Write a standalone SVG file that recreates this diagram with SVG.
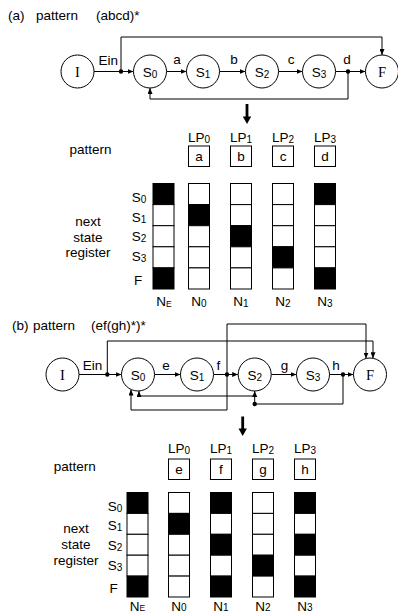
<svg xmlns="http://www.w3.org/2000/svg" width="398" height="612" viewBox="0 0 398 612">
<defs>
<style>
text{font-family:"Liberation Sans",Arial,sans-serif;font-size:13.5px;fill:#000}
.m{text-anchor:middle}
.sv{font-family:"Liberation Serif","Times New Roman",serif;font-size:14.5px}
.sub{font-size:10px}
.sube{font-size:8.5px}
circle{fill:#fff;stroke:#000;stroke-width:1}
.c{fill:none;stroke:#000;stroke-width:1}
.a{marker-end:url(#ah)}
.w{fill:#fff;stroke:#000;stroke-width:1}
.k{fill:#000;stroke:#000;stroke-width:1}
.dot{fill:#000;stroke:none}
.big{stroke:#000;stroke-width:2.8;fill:none}
</style>
<marker id="ah" markerWidth="6" markerHeight="5" refX="6" refY="2.5" orient="auto" markerUnits="userSpaceOnUse"><path d="M0,0 L6,2.5 L0,5 z" fill="#000"/></marker>
</defs>

<!-- ===== Part (a) ===== -->
<g id="title-a">
<text x="8" y="19.5">(a)</text>
<text x="36" y="19.5">pattern</text>
<text x="96" y="19.5">(abcd)*</text>
</g>

<g id="connectors-a">
<path class="c a" d="M94,71.5 H133.5"/>
<path class="c a" d="M121,71.5 V37 H382 V55"/>
<path class="c a" d="M166.5,71.5 H186.5"/>
<path class="c a" d="M219.5,71.5 H245.5"/>
<path class="c a" d="M278.5,71.5 H302.5"/>
<path class="c a" d="M335.5,71.5 H365.5"/>
<path class="c a" d="M348,71.5 V99 H150 V88"/>
<circle class="dot" cx="121" cy="71.5" r="2.2" style="stroke:none"/>
<circle class="dot" cx="348" cy="71.5" r="2.2" style="stroke:none"/>
<text x="98.5" y="65">Ein</text>
<text class="m" x="177" y="64">a</text>
<text class="m" x="234" y="64">b</text>
<text class="m" x="291" y="64">c</text>
<text class="m" x="347" y="64">d</text>
</g>

<g id="a-I"><circle cx="77.5" cy="71.5" r="16.5"/><text class="m sv" x="77.5" y="76.5">I</text></g>
<g id="a-S0"><circle cx="150" cy="71.5" r="16.5"/><text class="m" x="150" y="76.5">S<tspan class="sub" dy="1">0</tspan></text></g>
<g id="a-S1"><circle cx="203" cy="71.5" r="16.5"/><text class="m" x="203" y="76.5">S<tspan class="sub" dy="1">1</tspan></text></g>
<g id="a-S2"><circle cx="262" cy="71.5" r="16.5"/><text class="m" x="262" y="76.5">S<tspan class="sub" dy="1">2</tspan></text></g>
<g id="a-S3"><circle cx="319" cy="71.5" r="16.5"/><text class="m" x="319" y="76.5">S<tspan class="sub" dy="1">3</tspan></text></g>
<g id="a-F"><circle cx="382" cy="71.5" r="16.5"/><text class="m sv" x="382" y="76.5">F</text></g>

<g id="arrow-a">
<line class="big" x1="247" y1="104" x2="247" y2="118"/>
<polygon points="242.8,116.5 251.2,116.5 247,124" fill="#000"/>
</g>

<g id="table-a">
<text class="m" x="90.5" y="154">pattern</text>
<text class="m" x="199" y="141.7">LP<tspan class="sub" dy="1">0</tspan></text>
<text class="m" x="241" y="141.7">LP<tspan class="sub" dy="1">1</tspan></text>
<text class="m" x="283" y="141.7">LP<tspan class="sub" dy="1">2</tspan></text>
<text class="m" x="325" y="141.7">LP<tspan class="sub" dy="1">3</tspan></text>
<rect class="w" x="188.5" y="146" width="21" height="20.5"/><text class="m" x="199" y="160.5">a</text>
<rect class="w" x="230.5" y="146" width="21" height="20.5"/><text class="m" x="241" y="160.5">b</text>
<rect class="w" x="272.5" y="146" width="21" height="20.5"/><text class="m" x="283" y="160.5">c</text>
<rect class="w" x="314.5" y="146" width="21" height="20.5"/><text class="m" x="325" y="160.5">d</text>

<text class="m" x="88" y="225.7">next</text>
<text class="m" x="88" y="241.5">state</text>
<text class="m" x="88" y="257">register</text>

<text class="m" x="139" y="201.5">S<tspan class="sub" dy="1">0</tspan></text>
<text class="m" x="139" y="222">S<tspan class="sub" dy="1">1</tspan></text>
<text class="m" x="139" y="240.5">S<tspan class="sub" dy="1">2</tspan></text>
<text class="m" x="139" y="260.5">S<tspan class="sub" dy="1">3</tspan></text>
<text class="m" x="138" y="285">F</text>

<!-- NE -->
<rect class="k" x="153" y="183.5" width="21" height="21.1"/>
<rect class="w" x="153" y="204.6" width="21" height="21.1"/>
<rect class="w" x="153" y="225.7" width="21" height="21.1"/>
<rect class="w" x="153" y="246.8" width="21" height="21.1"/>
<rect class="k" x="153" y="267.9" width="21" height="21.1"/>
<!-- N0 -->
<rect class="w" x="188.5" y="183.5" width="21" height="21.1"/>
<rect class="k" x="188.5" y="204.6" width="21" height="21.1"/>
<rect class="w" x="188.5" y="225.7" width="21" height="21.1"/>
<rect class="w" x="188.5" y="246.8" width="21" height="21.1"/>
<rect class="w" x="188.5" y="267.9" width="21" height="21.1"/>
<!-- N1 -->
<rect class="w" x="230.5" y="183.5" width="21" height="21.1"/>
<rect class="w" x="230.5" y="204.6" width="21" height="21.1"/>
<rect class="k" x="230.5" y="225.7" width="21" height="21.1"/>
<rect class="w" x="230.5" y="246.8" width="21" height="21.1"/>
<rect class="w" x="230.5" y="267.9" width="21" height="21.1"/>
<!-- N2 -->
<rect class="w" x="272.5" y="183.5" width="21" height="21.1"/>
<rect class="w" x="272.5" y="204.6" width="21" height="21.1"/>
<rect class="w" x="272.5" y="225.7" width="21" height="21.1"/>
<rect class="k" x="272.5" y="246.8" width="21" height="21.1"/>
<rect class="w" x="272.5" y="267.9" width="21" height="21.1"/>
<!-- N3 -->
<rect class="k" x="314.5" y="183.5" width="21" height="21.1"/>
<rect class="w" x="314.5" y="204.6" width="21" height="21.1"/>
<rect class="w" x="314.5" y="225.7" width="21" height="21.1"/>
<rect class="w" x="314.5" y="246.8" width="21" height="21.1"/>
<rect class="k" x="314.5" y="267.9" width="21" height="21.1"/>

<text class="m" x="164" y="306">N<tspan class="sube" dy="1">E</tspan></text>
<text class="m" x="199" y="306">N<tspan class="sub" dy="1">0</tspan></text>
<text class="m" x="241" y="306">N<tspan class="sub" dy="1">1</tspan></text>
<text class="m" x="283" y="306">N<tspan class="sub" dy="1">2</tspan></text>
<text class="m" x="325" y="306">N<tspan class="sub" dy="1">3</tspan></text>
</g>

<!-- ===== Part (b) ===== -->
<g id="title-b">
<text x="12" y="329.5">(b)</text>
<text x="33" y="329.5">pattern</text>
<text x="91" y="329.5">(ef(gh)*)*</text>
</g>

<g id="connectors-b">
<path class="c a" d="M79,374.5 H121.5"/>
<path class="c a" d="M107.3,374.5 V341 H373 V358.3"/>
<path class="c a" d="M154.5,374.5 H180.5"/>
<path class="c a" d="M213.5,374.5 H238.2"/>
<path class="c a" d="M227,374.5 V324 H366 V358.5"/>
<path class="c a" d="M227,374.5 V410 H131 V389.5"/>
<path class="c a" d="M271.2,374.5 H296.5"/>
<path class="c a" d="M329.5,374.5 H353.5"/>
<path class="c a" d="M343,374.5 V404 H254.7 V391"/>
<path class="c a" d="M254.7,396 H139 V391"/>
<circle class="dot" cx="107.3" cy="374.5" r="2.2" style="stroke:none"/>
<circle class="dot" cx="227" cy="374.5" r="2.2" style="stroke:none"/>
<circle class="dot" cx="343" cy="374.5" r="2.2" style="stroke:none"/>
<circle class="dot" cx="254.7" cy="404" r="2.2" style="stroke:none"/>
<text x="82.7" y="370">Ein</text>
<text class="m" x="166" y="369.5">e</text>
<text class="m" x="218.5" y="369.5">f</text>
<text class="m" x="284.5" y="369.5">g</text>
<text class="m" x="336" y="370">h</text>
</g>

<g id="b-I"><circle cx="62.5" cy="374.5" r="16.5"/><text class="m sv" x="62.5" y="379.5">I</text></g>
<g id="b-S0"><circle cx="138" cy="374.5" r="16.5"/><text class="m" x="138" y="379.5">S<tspan class="sub" dy="1">0</tspan></text></g>
<g id="b-S1"><circle cx="197" cy="374.5" r="16.5"/><text class="m" x="197" y="379.5">S<tspan class="sub" dy="1">1</tspan></text></g>
<g id="b-S2"><circle cx="254.7" cy="374.5" r="16.5"/><text class="m" x="254.7" y="379.5">S<tspan class="sub" dy="1">2</tspan></text></g>
<g id="b-S3"><circle cx="313" cy="374.5" r="16.5"/><text class="m" x="313" y="379.5">S<tspan class="sub" dy="1">3</tspan></text></g>
<g id="b-F"><circle cx="370" cy="374.5" r="16.5"/><text class="m sv" x="370" y="379.5">F</text></g>

<g id="arrow-b">
<line class="big" x1="242.7" y1="416.5" x2="242.7" y2="430"/>
<polygon points="238.5,428.5 246.9,428.5 242.7,436" fill="#000"/>
</g>

<g id="table-b">
<text class="m" x="74.7" y="470.5">pattern</text>
<text class="m" x="179" y="452.7">LP<tspan class="sub" dy="1">0</tspan></text>
<text class="m" x="221" y="452.7">LP<tspan class="sub" dy="1">1</tspan></text>
<text class="m" x="263" y="452.7">LP<tspan class="sub" dy="1">2</tspan></text>
<text class="m" x="305" y="452.7">LP<tspan class="sub" dy="1">3</tspan></text>
<rect class="w" x="168.5" y="459" width="21" height="20.5"/><text class="m" x="179" y="473.5">e</text>
<rect class="w" x="210.5" y="459" width="21" height="20.5"/><text class="m" x="221" y="473.5">f</text>
<rect class="w" x="252.5" y="459" width="21" height="20.5"/><text class="m" x="263" y="473.5">g</text>
<rect class="w" x="294.5" y="459" width="21" height="20.5"/><text class="m" x="305" y="473.5">h</text>

<text class="m" x="76" y="533.3">next</text>
<text class="m" x="76" y="549.3">state</text>
<text class="m" x="76" y="565">register</text>

<text class="m" x="115" y="510.7">S<tspan class="sub" dy="1">0</tspan></text>
<text class="m" x="115" y="530">S<tspan class="sub" dy="1">1</tspan></text>
<text class="m" x="115" y="550">S<tspan class="sub" dy="1">2</tspan></text>
<text class="m" x="115" y="570">S<tspan class="sub" dy="1">3</tspan></text>
<text class="m" x="113.5" y="593">F</text>

<!-- NE -->
<rect class="k" x="127" y="492.5" width="21" height="20.9"/>
<rect class="w" x="127" y="513.4" width="21" height="20.9"/>
<rect class="w" x="127" y="534.3" width="21" height="20.9"/>
<rect class="w" x="127" y="555.2" width="21" height="20.9"/>
<rect class="k" x="127" y="576.1" width="21" height="20.9"/>
<!-- N0 -->
<rect class="w" x="168.5" y="492.5" width="21" height="20.9"/>
<rect class="k" x="168.5" y="513.4" width="21" height="20.9"/>
<rect class="w" x="168.5" y="534.3" width="21" height="20.9"/>
<rect class="w" x="168.5" y="555.2" width="21" height="20.9"/>
<rect class="w" x="168.5" y="576.1" width="21" height="20.9"/>
<!-- N1 -->
<rect class="k" x="210.5" y="492.5" width="21" height="20.9"/>
<rect class="w" x="210.5" y="513.4" width="21" height="20.9"/>
<rect class="k" x="210.5" y="534.3" width="21" height="20.9"/>
<rect class="w" x="210.5" y="555.2" width="21" height="20.9"/>
<rect class="k" x="210.5" y="576.1" width="21" height="20.9"/>
<!-- N2 -->
<rect class="w" x="252.5" y="492.5" width="21" height="20.9"/>
<rect class="w" x="252.5" y="513.4" width="21" height="20.9"/>
<rect class="w" x="252.5" y="534.3" width="21" height="20.9"/>
<rect class="k" x="252.5" y="555.2" width="21" height="20.9"/>
<rect class="w" x="252.5" y="576.1" width="21" height="20.9"/>
<!-- N3 -->
<rect class="k" x="294.5" y="492.5" width="21" height="20.9"/>
<rect class="w" x="294.5" y="513.4" width="21" height="20.9"/>
<rect class="k" x="294.5" y="534.3" width="21" height="20.9"/>
<rect class="w" x="294.5" y="555.2" width="21" height="20.9"/>
<rect class="k" x="294.5" y="576.1" width="21" height="20.9"/>

<text class="m" x="137.5" y="610.5">N<tspan class="sube" dy="0.5">E</tspan></text>
<text class="m" x="179" y="610.5">N<tspan class="sub" dy="0.5">0</tspan></text>
<text class="m" x="221" y="610.5">N<tspan class="sub" dy="0.5">1</tspan></text>
<text class="m" x="263" y="610.5">N<tspan class="sub" dy="0.5">2</tspan></text>
<text class="m" x="305" y="610.5">N<tspan class="sub" dy="0.5">3</tspan></text>
</g>
</svg>
